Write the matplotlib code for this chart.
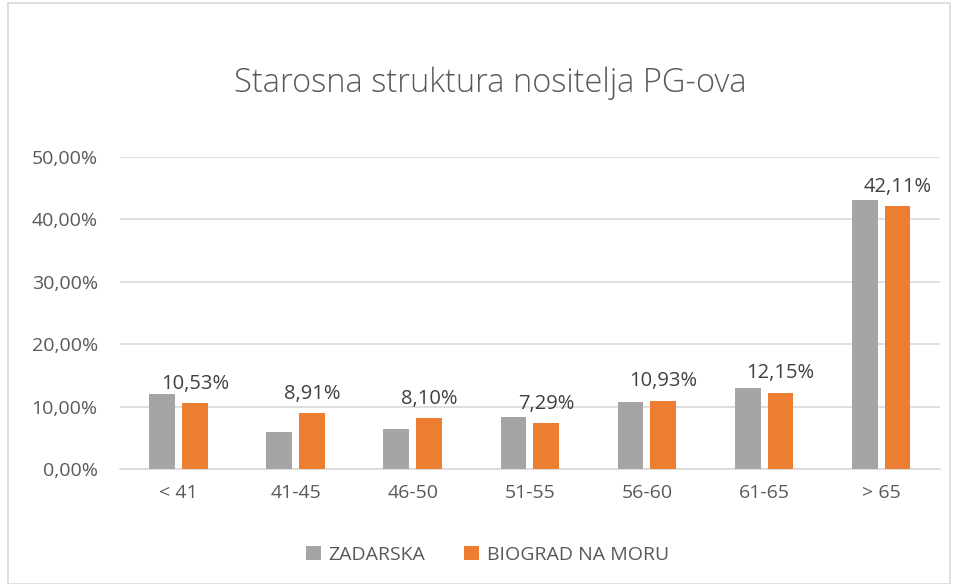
import matplotlib.pyplot as plt
import numpy as np
from matplotlib.patches import Rectangle

categories = ['< 41', '41-45', '46-50', '51-55', '56-60', '61-65', '> 65']
zadarska = [12.0, 5.9, 6.4, 8.4, 10.8, 12.9, 43.2]
biograd = [10.53, 8.91, 8.10, 7.29, 10.93, 12.15, 42.11]
yticks = [0, 10, 20, 30, 40, 50]

plt.rcParams['font.family'] = ['Open Sans', 'DejaVu Sans']
text_col = '#595959'

fig = plt.figure(figsize=(9.56, 5.84), dpi=100)
ax = fig.add_axes([0.1255, 0.197, 0.8575, 0.534])

x = np.arange(len(categories))
w = 0.22
ax.bar(x - 0.14, zadarska, width=w, color='#A5A5A5', label='ZADARSKA', zorder=3)
ax.bar(x + 0.14, biograd, width=w, color='#ED7D31', label='BIOGRAD NA MORU', zorder=3)

for xi, v in zip(x, biograd):
    ax.annotate(f'{v:.2f}%'.replace('.', ','), (xi + 0.14, v), xytext=(0, 7),
                textcoords='offset points', ha='center', va='bottom',
                fontsize=14.5, color='#404040')

ax.set_xlim(-0.5, len(categories) - 0.5)
ax.set_ylim(0, 50)
ax.set_yticks(yticks)
ax.set_yticklabels([f'{t:.2f}%'.replace('.', ',') for t in yticks])
ax.set_xticks(x)
ax.set_xticklabels(categories)
ax.tick_params(axis='both', length=0, labelsize=14, labelcolor=text_col)
ax.tick_params(axis='x', pad=11)
ax.tick_params(axis='y', pad=16)
ax.grid(axis='y', color='#D9D9D9', linewidth=1.2, zorder=0)
for s in ['top', 'right', 'left']:
    ax.spines[s].set_visible(False)
ax.spines['bottom'].set_color('#D9D9D9')
ax.spines['bottom'].set_linewidth(1.2)

fig.text(0.513, 0.858, 'Starosna struktura nositelja PG-ova', ha='center', va='center',
         fontsize=23.5, color=text_col, fontweight='light')

fig.legend(loc='center', bbox_to_anchor=(0.51, 0.05), ncol=2, frameon=False,
           fontsize=14, labelcolor=text_col, handlelength=0.75, handleheight=0.75,
           columnspacing=2.0, handletextpad=0.4)

fig.patches.append(Rectangle((0.008, 0.0), 0.986, 0.995, transform=fig.transFigure,
                             fill=False, edgecolor='#D9D9D9', linewidth=1.2))

fig.savefig('out.png', dpi=100)
